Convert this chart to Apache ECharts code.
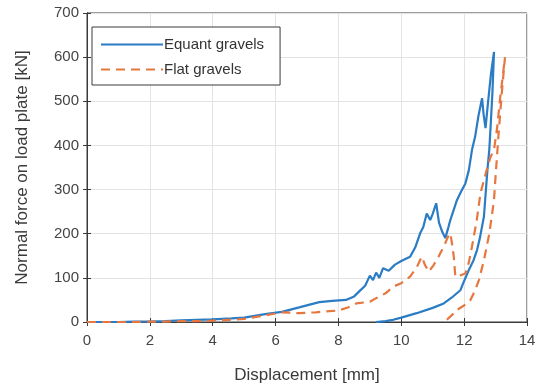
<!DOCTYPE html>
<html>
<head>
<meta charset="utf-8">
<script src="https://cdn.jsdelivr.net/npm/echarts@6/dist/echarts.min.js"></script>
<style>html,body{margin:0;padding:0;background:#fff}#c{width:540px;height:389px}</style>
</head>
<body>
<div id="c"></div>
<script>
const xTicks = [0, 2, 4, 6, 8, 10, 12, 14];
const yTicks = [0, 100, 200, 300, 400, 500, 600, 700];
const seriesNames = ['Equant gravels', 'Flat gravels'];

const equantX = [0, 0.5, 1, 1.5, 2, 2.5, 3, 3.5, 4, 4.6, 5, 5.67, 6.2, 6.75, 7.39, 7.8, 8.24, 8.5, 8.67, 8.85, 9.0, 9.1, 9.2, 9.3, 9.42, 9.6, 9.8, 10.0, 10.28, 10.45, 10.6, 10.7, 10.81, 10.92, 11.0, 11.11, 11.2, 11.3, 11.4, 11.5, 11.56, 11.65, 11.77, 11.9, 12.04, 12.15, 12.25, 12.35, 12.45, 12.57, 12.62, 12.68, 12.75, 12.85, 12.95,
  12.9, 12.84, 12.8, 12.74, 12.63, 12.5, 12.41, 12.3, 12.15, 12.0, 11.88, 11.6, 11.35, 11.0, 10.49, 10.0, 9.74, 9.5, 9.2];
const equantY = [0, 0, 0, 1, 1, 2, 4, 5, 6, 8, 10, 18, 23, 33, 45, 48, 50, 58, 70, 82, 105, 95, 112, 100, 122, 116, 130, 138, 148, 170, 201, 215, 246, 231, 245, 269, 225, 205, 190, 215, 231, 250, 276, 295, 314, 344, 390, 420, 465, 507, 470, 439, 490, 560, 612,
  520, 440, 390, 344, 239, 190, 163, 140, 118, 93, 72, 55, 42, 32, 20, 10, 5, 2, 0];

const flatX = [0, 0.5, 1, 1.5, 2, 2.5, 3, 3.5, 4, 4.5, 5, 5.67, 6.2, 6.75, 7.28, 8.0, 8.3, 8.57, 9.0, 9.2, 9.5, 9.74, 10.0, 10.28, 10.5, 10.65, 10.75, 10.87, 11.03, 11.2, 11.35, 11.5, 11.56, 11.62, 11.67, 11.72, 11.85, 12.04, 12.15, 12.25, 12.4, 12.52, 12.7, 12.84, 12.95, 13.05, 13.15, 13.25, 13.3,
  13.2, 13.1, 13.0, 12.95, 12.8, 12.63, 12.47, 12.35, 12.2, 12.09, 11.77, 11.6, 11.45, 11.4];
const flatY = [0, 0, 0, 0, 1, 1, 2, 2, 3, 5, 7, 15, 22, 20, 22, 26, 33, 42, 46, 54, 65, 80, 88, 103, 125, 148, 130, 114, 129, 150, 171, 195, 201, 175, 148, 103, 105, 110, 135, 171, 230, 292, 340, 374, 390, 440, 510, 570, 600,
  520, 430, 330, 276, 200, 140, 95, 72, 50, 42, 27, 15, 5, 0];

const zip = (xs, ys) => xs.map((x, i) => [x, ys[i]]);

const chart = echarts.init(document.getElementById('c'), null, {renderer: 'canvas'});
const font = 'Liberation Sans, Arial, sans-serif';
const gridLine = {show: true, lineStyle: {color: '#e3e3e3', width: 1}};
chart.setOption({
  animation: false,
  backgroundColor: '#fff',
  grid: {left: 87, right: 13, top: 13, bottom: 67, show: true, borderColor: '#3a3a3a', borderWidth: 1, backgroundColor: '#fff'},
  legend: {
    orient: 'vertical', left: 92, top: 27,
    data: seriesNames,
    backgroundColor: '#fff', borderColor: '#3a3a3a', borderWidth: 1,
    padding: [10, 16, 8, 8], itemGap: 10, itemWidth: 62, itemHeight: 12,
    itemStyle: {opacity: 0},
    textStyle: {fontFamily: font, fontSize: 15, color: '#333', padding: [0, 0, 0, -4]}
  },
  xAxis: [{
    type: 'value', min: 0, max: 14, interval: 2,
    name: 'Displacement [mm]', nameLocation: 'middle', nameGap: 45,
    nameTextStyle: {fontFamily: font, fontSize: 17, color: '#3a3a3a'},
    axisLine: {show: true, lineStyle: {color: '#3a3a3a'}},
    axisTick: {show: true, inside: true, length: 4, lineStyle: {color: '#3a3a3a'}},
    axisLabel: {fontFamily: font, fontSize: 15, color: '#444', margin: 11, formatter: v => xTicks.includes(v) ? String(v) : ''},
    splitLine: gridLine
  }, {
    type: 'value', min: 0, max: 14, interval: 2, position: 'top',
    axisLine: {show: true, lineStyle: {color: '#3a3a3a'}},
    axisTick: {show: true, inside: true, length: 4, lineStyle: {color: '#3a3a3a'}},
    axisLabel: {show: false}, splitLine: {show: false}
  }],
  yAxis: [{
    type: 'value', min: 0, max: 700, interval: 100,
    name: 'Normal force on load plate [kN]', nameLocation: 'middle', nameGap: 56,
    nameTextStyle: {fontFamily: font, fontSize: 17, color: '#3a3a3a'},
    axisLine: {show: true, lineStyle: {color: '#3a3a3a'}},
    axisTick: {show: true, inside: true, length: 4, lineStyle: {color: '#3a3a3a'}},
    axisLabel: {fontFamily: font, fontSize: 15, color: '#444', margin: 8, formatter: v => yTicks.includes(v) ? String(v) : ''},
    splitLine: gridLine
  }, {
    type: 'value', min: 0, max: 700, interval: 100, position: 'right',
    axisLine: {show: true, lineStyle: {color: '#3a3a3a'}},
    axisTick: {show: true, inside: true, length: 4, lineStyle: {color: '#3a3a3a'}},
    axisLabel: {show: false}, splitLine: {show: false}
  }],
  series: [{
    name: seriesNames[0], type: 'line', data: zip(equantX, equantY),
    symbol: 'none', color: '#2a7cc4',
    lineStyle: {width: 2.2, color: '#2a7cc4'}, z: 3
  }, {
    name: seriesNames[1], type: 'line', data: zip(flatX, flatY),
    symbol: 'none', color: '#e6773f',
    lineStyle: {width: 2.2, color: '#e6773f', type: [9, 6]}, z: 4
  }]
});
</script>
</body>
</html>
